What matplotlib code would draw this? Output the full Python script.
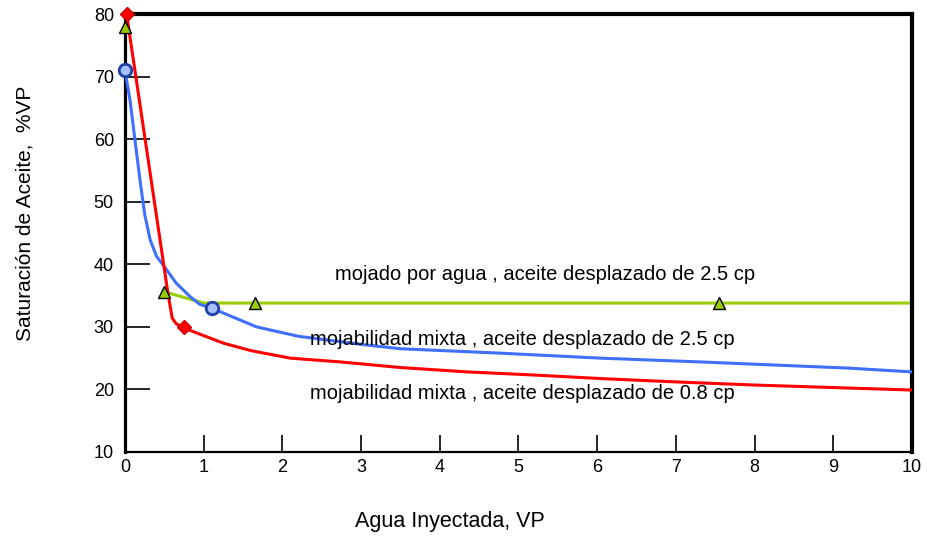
import matplotlib
matplotlib.use('agg')
from matplotlib import pyplot as plt

plt.rcParams['font.family'] = ['Liberation Sans', 'DejaVu Sans']

# ==================
# datos
# ==================
# mojabilidad mixta, aceite de 0.8 cp
red_x = [0.02, 0.55, 0.6, 0.65, 0.75, 1.0, 1.25, 1.6, 2.1, 2.73, 3.5, 4.35, 5.2, 6.1, 7, 8, 9, 10]
red_y = [80, 35, 31.4, 30.5, 29.8, 28.6, 27.4, 26.2, 25.0, 24.4, 23.5, 22.8, 22.3, 21.7, 21.2, 20.7, 20.3, 19.9]
red_mx = [0.02, 0.75]
red_my = [80, 30]

# mojabilidad mixta, aceite de 2.5 cp
blue_x = [0, 0.064, 0.19, 0.25, 0.32, 0.4, 0.53, 0.65, 0.83, 0.95, 1.1, 1.67, 2.2, 3, 3.5,
          4.76, 6.04, 7.3, 9.2, 10]
blue_y = [71, 66.2, 53.5, 48, 43.9, 41.3, 39.1, 37, 34.8, 33.6, 33, 30.0, 28.5, 27.2, 26.5,
          25.8, 25.0, 24.4, 23.4, 22.8]
blue_mx = [0, 1.1]
blue_my = [71, 33]

# mojado por agua, aceite de 2.5 cp
green_x = [0.5, 1.0, 10]
green_y = [35.6, 33.8, 33.8]
green_mx = [0, 0.5, 1.65, 7.55]
green_my = [78, 35.6, 33.8, 33.8]

labels = ['mojado por agua , aceite desplazado de 2.5 cp',
          'mojabilidad mixta , aceite desplazado de 2.5 cp',
          'mojabilidad mixta , aceite desplazado de 0.8 cp']
label_x = [2.67, 2.35, 2.35]
label_y = [38.3, 27.9, 19.4]

x_ticks = list(range(0, 11))
y_ticks = [10, 20, 30, 40, 50, 60, 70, 80]

fig = plt.figure(figsize=(9.28, 5.4), dpi=100)
ax = fig.add_axes([0.1347, 0.163, 0.848, 0.811])

ax.plot(green_x, green_y, color='#99cc00', lw=2.2, zorder=2)
ax.plot(blue_x, blue_y, color='#3f6fff', lw=2.2, zorder=3)
ax.plot(red_x, red_y, color='#ff0000', lw=2.2, zorder=4)

ax.plot(green_mx, green_my, ls='none', marker='^', ms=9, mfc='#99cc00', mec='black', mew=1.0,
        zorder=6, clip_on=False)
ax.plot(blue_mx, blue_my, ls='none', marker='o', ms=9, mfc='#a8c0ff', mec='#1f3fa8', mew=2.0,
        zorder=6, clip_on=False)
ax.plot(red_mx, red_my, ls='none', marker='D', ms=7, mfc='#ff0000', mec='#cc0000', mew=1.0,
        zorder=7, clip_on=False)

for t, tx, ty in zip(labels, label_x, label_y):
    ax.text(tx, ty, t, fontsize=14.5, ha='left', va='center', color='black', zorder=5)

ax.set_xlim(0, 10)
ax.set_ylim(10, 80)
ax.set_xticks(x_ticks)
ax.set_yticks(y_ticks)
ax.tick_params(axis='y', direction='in', length=18, width=1.2, labelsize=13, pad=8)
ax.tick_params(axis='x', direction='in', length=12, width=1.2, labelsize=13, pad=5)

ax.spines['left'].set_linewidth(2.3)
ax.spines['bottom'].set_linewidth(1.6)
ax.spines['top'].set_linewidth(3.0)
ax.spines['right'].set_linewidth(3.0)

ax.set_xlabel('Agua Inyectada, VP', fontsize=15.5)
ax.xaxis.set_label_coords(0.413, -0.135)
ax.set_ylabel('Saturación de Aceite,  %VP', fontsize=15)
ax.yaxis.set_label_coords(-0.115, 0.546)

plt.savefig('out.png', dpi=100)
